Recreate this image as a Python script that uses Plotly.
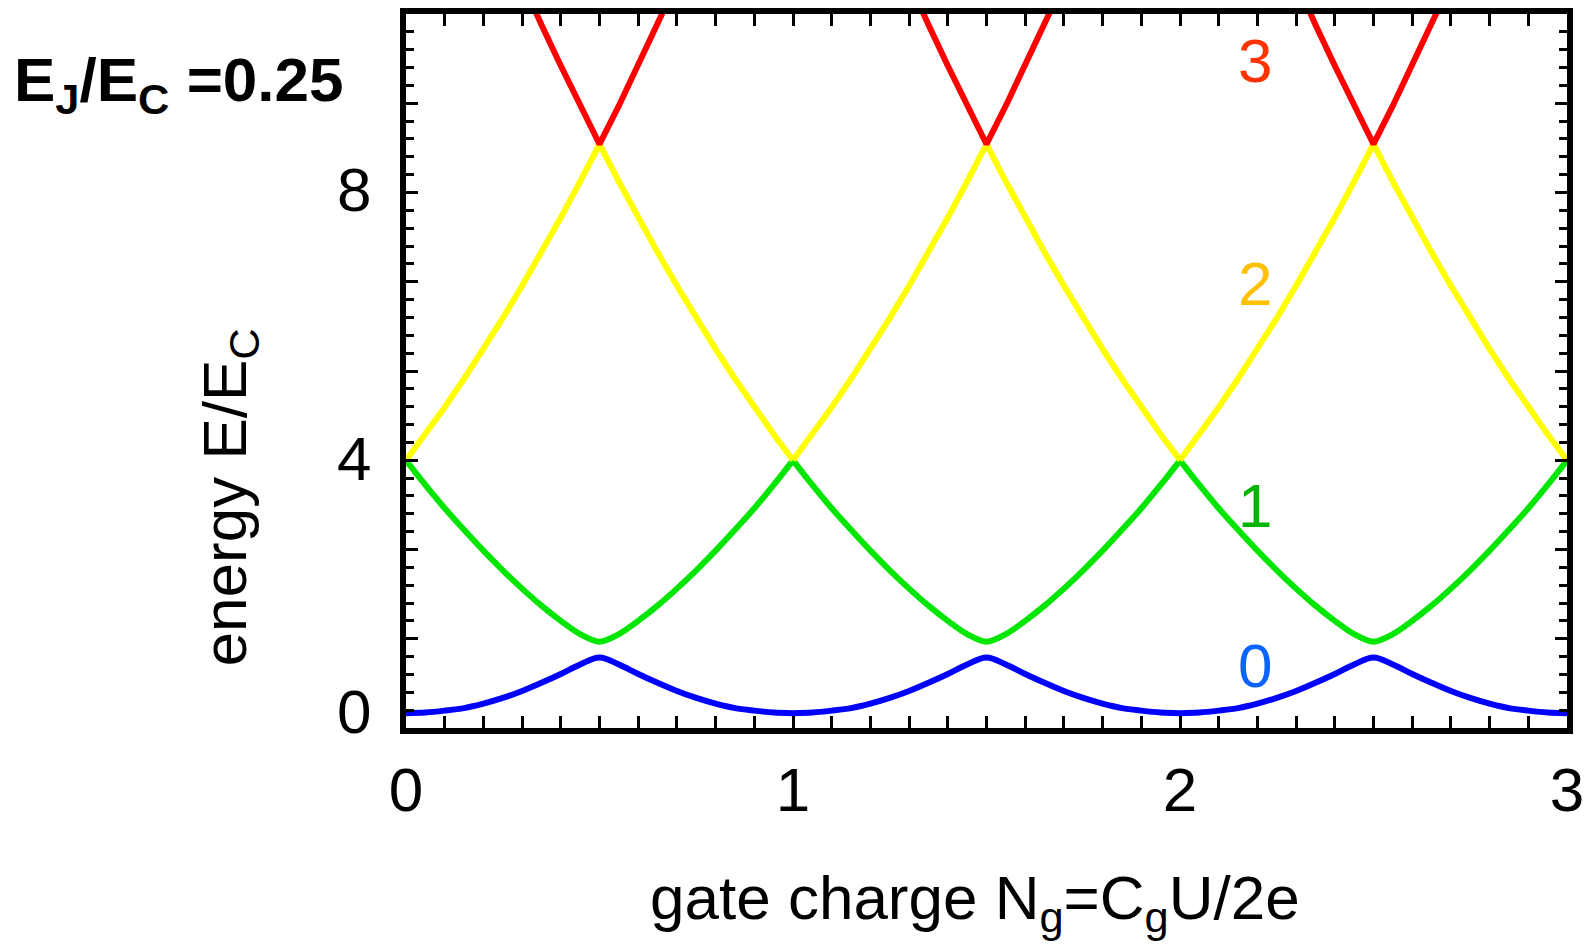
import plotly.graph_objects as go

# ---- data ----
ng = [0.00, 0.05, 0.10, 0.15, 0.20, 0.25, 0.30, 0.35, 0.40, 0.45,
      0.50, 0.55, 0.60, 0.65, 0.70, 0.75, 0.80, 0.85, 0.90, 0.95,
      1.00, 1.05, 1.10, 1.15, 1.20, 1.25, 1.30, 1.35, 1.40, 1.45,
      1.50, 1.55, 1.60, 1.65, 1.70, 1.75, 1.80, 1.85, 1.90, 1.95,
      2.00, 2.05, 2.10, 2.15, 2.20, 2.25, 2.30, 2.35, 2.40, 2.45,
      2.50, 2.55, 2.60, 2.65, 2.70, 2.75, 2.80, 2.85, 2.90, 2.95, 3.00]

level0 = [0.00, 0.01, 0.04, 0.08, 0.15, 0.24, 0.35, 0.48, 0.62, 0.77,
          0.88, 0.77, 0.62, 0.48, 0.35, 0.24, 0.15, 0.08, 0.04, 0.01,
          0.00, 0.01, 0.04, 0.08, 0.15, 0.24, 0.35, 0.48, 0.62, 0.77,
          0.88, 0.77, 0.62, 0.48, 0.35, 0.24, 0.15, 0.08, 0.04, 0.01,
          0.00, 0.01, 0.04, 0.08, 0.15, 0.24, 0.35, 0.48, 0.62, 0.77,
          0.88, 0.77, 0.62, 0.48, 0.35, 0.24, 0.15, 0.08, 0.04, 0.01, 0.00]

level1 = [4.00, 3.61, 3.24, 2.90, 2.57, 2.26, 1.97, 1.70, 1.46, 1.25,
          1.13, 1.25, 1.46, 1.70, 1.97, 2.26, 2.57, 2.90, 3.24, 3.61,
          4.00, 3.61, 3.24, 2.90, 2.57, 2.26, 1.97, 1.70, 1.46, 1.25,
          1.13, 1.25, 1.46, 1.70, 1.97, 2.26, 2.57, 2.90, 3.24, 3.61,
          4.00, 3.61, 3.24, 2.90, 2.57, 2.26, 1.97, 1.70, 1.46, 1.25,
          1.13, 1.25, 1.46, 1.70, 1.97, 2.26, 2.57, 2.90, 3.24, 3.61, 4.00]

level2 = [4.00, 4.41, 4.84, 5.29, 5.76, 6.25, 6.76, 7.29, 7.84, 8.41,
          9.00, 8.41, 7.84, 7.29, 6.76, 6.25, 5.76, 5.29, 4.84, 4.41,
          4.00, 4.41, 4.84, 5.29, 5.76, 6.25, 6.76, 7.29, 7.84, 8.41,
          9.00, 8.41, 7.84, 7.29, 6.76, 6.25, 5.76, 5.29, 4.84, 4.41,
          4.00, 4.41, 4.84, 5.29, 5.76, 6.25, 6.76, 7.29, 7.84, 8.41,
          9.00, 8.41, 7.84, 7.29, 6.76, 6.25, 5.76, 5.29, 4.84, 4.41, 4.00]

level3 = [16.00, 15.21, 14.44, 13.69, 12.96, 12.25, 11.56, 10.89, 10.24, 9.61,
          9.00, 9.61, 10.24, 10.89, 11.56, 12.25, 12.96, 13.69, 14.44, 15.21,
          16.00, 15.21, 14.44, 13.69, 12.96, 12.25, 11.56, 10.89, 10.24, 9.61,
          9.00, 9.61, 10.24, 10.89, 11.56, 12.25, 12.96, 13.69, 14.44, 15.21,
          16.00, 15.21, 14.44, 13.69, 12.96, 12.25, 11.56, 10.89, 10.24, 9.61,
          9.00, 9.61, 10.24, 10.89, 11.56, 12.25, 12.96, 13.69, 14.44, 15.21, 16.00]

level_names = ["0", "1", "2", "3"]
level_label_x = [2.193, 2.193, 2.193, 2.193]
level_label_y = [0.76, 3.29, 6.79, 10.32]

x_tick_vals = [0, 0.5, 1, 1.5, 2, 2.5, 3]
x_tick_text = ["0", "", "1", "", "2", "", "3"]
y_tick_vals = [0.03, 4.03, 8.28]
y_tick_text = ["0", "4", "8"]

x_title = "gate charge N<sub>g</sub>=C<sub>g</sub>U/2e"
y_title = "energy E/E<sub>C</sub>"
corner_text = "<b>E<sub>J</sub>/E<sub>C</sub> =0.25</b>"

# ---- style ----
FONT = "Liberation Sans, Arial, Helvetica, sans-serif"
line_colors = ["#0000ff", "#00e600", "#ffff00", "#ff0000"]
label_colors = ["#0a64ff", "#00b400", "#ffc000", "#ff3300"]
X_RANGE = [0, 3]
Y_RANGE = [-0.235, 11.06]
W, H = 1592, 948
ML, MR, MT, MB = 406, 22, 8, 220
PW, PH = W - ML - MR, H - MT - MB
LW = 6
SMALL_TL, LONG_TL = 8, 12
# frame height split into 40 equal small-tick steps, long tick every 5 steps
Y_STEPS = 40
small_tick_pos = list(range(0, Y_STEPS + 1))
long_tick_pos = list(range(0, Y_STEPS + 1, 5))


def px_to_paper(px, py):
    return (px - ML) / PW, (H - MB - py) / PH


fig = go.Figure()
levels = [level0, level1, level2, level3]
shapes = ["spline", "spline", "linear", "linear"]
# each period drawn as its own piece so the cusps at integer N_g stay sharp
for vals, col, shp in zip(levels, line_colors, shapes):
    for k in range(3):
        a, b = 20 * k, 20 * k + 21
        fig.add_trace(go.Scatter(x=ng[a:b], y=vals[a:b], mode="lines",
                                 line=dict(color=col, width=LW, shape=shp),
                                 showlegend=False, hoverinfo="skip"))
# empty traces so the tick-only overlay axes are drawn
fig.add_trace(go.Scatter(x=[], y=[], yaxis="y2", showlegend=False))
fig.add_trace(go.Scatter(x=[], y=[], yaxis="y3", showlegend=False))

annotations = []
for name, lx, ly, col in zip(level_names, level_label_x, level_label_y, label_colors):
    annotations.append(dict(x=lx, y=ly, xref="x", yref="y", text=name,
                            showarrow=False, xanchor="center", yanchor="middle",
                            font=dict(family=FONT, size=62, color=col)))

ax, ay = px_to_paper(976, 903)
annotations.append(dict(x=ax, y=ay, xref="paper", yref="paper", text=x_title,
                        showarrow=False, xanchor="center", yanchor="middle",
                        font=dict(family=FONT, size=62, color="black")))
ax, ay = px_to_paper(228, 495)
annotations.append(dict(x=ax, y=ay, xref="paper", yref="paper", text=y_title,
                        showarrow=False, xanchor="center", yanchor="middle",
                        textangle=-90,
                        font=dict(family=FONT, size=62, color="black")))
ax, ay = px_to_paper(11, 79)
annotations.append(dict(x=ax, y=ay, xref="paper", yref="paper", text=corner_text,
                        showarrow=False, xanchor="left", yanchor="middle",
                        font=dict(family=FONT, size=62, color="black")))

tick_axis_common = dict(range=[0, Y_STEPS], overlaying="y", anchor="x", side="left",
                        tickmode="array", ticks="inside", tickwidth=3, tickcolor="black",
                        showline=True, linewidth=6, linecolor="black", mirror="allticks",
                        showticklabels=False, showgrid=False, zeroline=False)

fig.update_layout(
    width=W, height=H,
    margin=dict(l=ML, r=MR, t=MT, b=MB, pad=0),
    paper_bgcolor="white", plot_bgcolor="white",
    showlegend=False,
    font=dict(family=FONT, size=62, color="black"),
    xaxis=dict(range=X_RANGE, tickmode="array", tickvals=x_tick_vals, ticktext=x_tick_text,
               ticks="inside", ticklen=LONG_TL, tickwidth=3, tickcolor="black",
               minor=dict(tickmode="linear", tick0=0, dtick=0.1, ticks="inside",
                          ticklen=SMALL_TL, tickwidth=3, tickcolor="black"),
               showline=True, linewidth=6, linecolor="black", mirror="allticks",
               showgrid=False, zeroline=False,
               tickfont=dict(family=FONT, size=62, color="black"),
               ticklabelstandoff=3),
    yaxis=dict(range=Y_RANGE, tickmode="array", tickvals=y_tick_vals, ticktext=y_tick_text,
               ticks="", showline=True, linewidth=6, linecolor="black", mirror=True,
               showgrid=False, zeroline=False,
               tickfont=dict(family=FONT, size=62, color="black"),
               ticklabelstandoff=16),
    yaxis2=dict(tickvals=small_tick_pos, ticklen=SMALL_TL, **tick_axis_common),
    yaxis3=dict(tickvals=long_tick_pos, ticklen=LONG_TL, **tick_axis_common),
    annotations=annotations,
)

fig.write_html("out.html")
